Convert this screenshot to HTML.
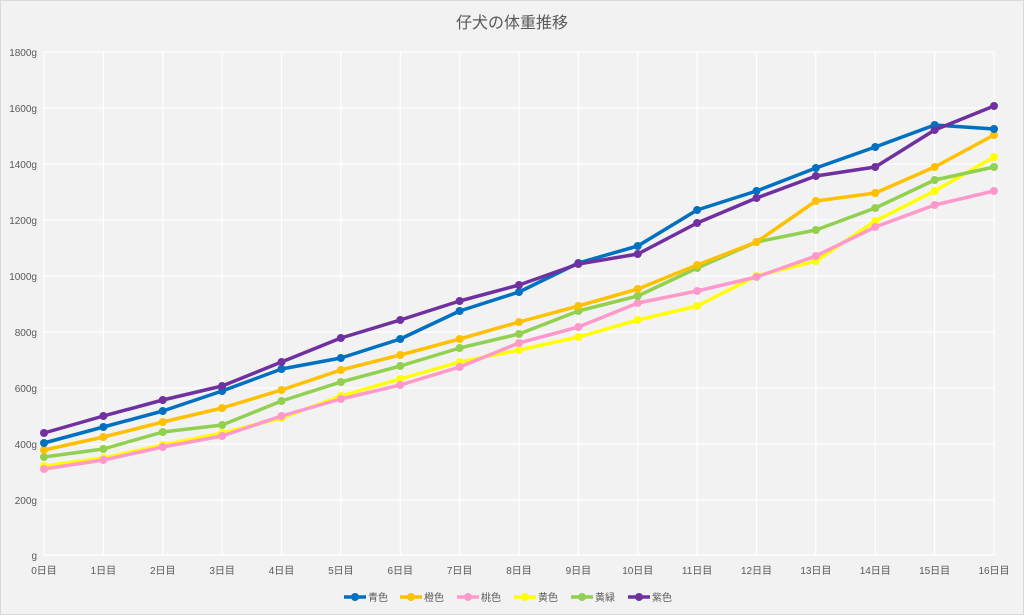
<!DOCTYPE html>
<html><head><meta charset="utf-8"><style>
html,body{margin:0;padding:0;background:#f2f2f2;}
svg{display:block;font-family:"Liberation Sans","Noto Sans CJK JP",sans-serif;}
</style></head><body>
<svg width="1024" height="615" viewBox="0 0 1024 615">
<rect x="0.5" y="0.5" width="1023" height="614" fill="#f2f2f2" stroke="#d9d9d9"/>
<text x="512" y="28" text-anchor="middle" font-size="16" fill="#595959">仔犬の体重推移</text>
<g stroke="#ffffff" stroke-width="1.2">
<line x1="44" y1="52" x2="994" y2="52"/><line x1="44" y1="108" x2="994" y2="108"/>
<line x1="44" y1="164" x2="994" y2="164"/><line x1="44" y1="220" x2="994" y2="220"/>
<line x1="44" y1="276" x2="994" y2="276"/><line x1="44" y1="332" x2="994" y2="332"/>
<line x1="44" y1="388" x2="994" y2="388"/><line x1="44" y1="444" x2="994" y2="444"/>
<line x1="44" y1="500" x2="994" y2="500"/><line x1="44" y1="555" x2="994" y2="555"/>
</g>
<g stroke="#ffffff" stroke-width="1.2" id="vg"></g>
<g font-size="10" fill="#595959" text-anchor="end">
<text x="37" y="56">1800g</text><text x="37" y="112">1600g</text><text x="37" y="168">1400g</text>
<text x="37" y="224">1200g</text><text x="37" y="280">1000g</text><text x="37" y="336">800g</text>
<text x="37" y="392">600g</text><text x="37" y="448">400g</text><text x="37" y="504">200g</text>
<text x="37" y="559">g</text>
</g>
<g id="xl" font-size="10" fill="#595959" text-anchor="middle"></g>
<g id="series"></g>
<g font-size="10" fill="#595959">
<line x1="344" y1="597" x2="366" y2="597" stroke="#0070c0" stroke-width="3.5"/><circle cx="355" cy="597" r="4" fill="#0070c0"/><text x="368" y="601">青色</text>
<line x1="400" y1="597" x2="422" y2="597" stroke="#ffc000" stroke-width="3.5"/><circle cx="411" cy="597" r="4" fill="#ffc000"/><text x="424" y="601">橙色</text>
<line x1="457" y1="597" x2="479" y2="597" stroke="#ff99cc" stroke-width="3.5"/><circle cx="468" cy="597" r="4" fill="#ff99cc"/><text x="481" y="601">桃色</text>
<line x1="514" y1="597" x2="536" y2="597" stroke="#ffff00" stroke-width="3.5"/><circle cx="525" cy="597" r="4" fill="#ffff00"/><text x="538" y="601">黄色</text>
<line x1="571" y1="597" x2="593" y2="597" stroke="#92d050" stroke-width="3.5"/><circle cx="582" cy="597" r="4" fill="#92d050"/><text x="595" y="601">黄緑</text>
<line x1="628" y1="597" x2="650" y2="597" stroke="#7030a0" stroke-width="3.5"/><circle cx="639" cy="597" r="4" fill="#7030a0"/><text x="652" y="601">紫色</text>
</g>
</svg>
<script>
var ns="http://www.w3.org/2000/svg";
function X(i){return 44+i*59.375;}
var vg=document.getElementById('vg'),xl=document.getElementById('xl');
for(var i=0;i<=16;i++){
 var l=document.createElementNS(ns,'line');l.setAttribute('x1',X(i));l.setAttribute('x2',X(i));l.setAttribute('y1',52);l.setAttribute('y2',555);vg.appendChild(l);
 var t=document.createElementNS(ns,'text');t.setAttribute('x',X(i));t.setAttribute('y',574);t.textContent=i+'日目';xl.appendChild(t);
}
var S=[
["#ffff00",[466,458,445,433,418,396,379,362,350,337,320,306,276,261,221,191,157]],
["#ff99cc",[469,460,447,436,416,399,385,367,343,327,303,291,277,256,227,205,191]],
["#92d050",[457,449,432,425,401,382,366,348,334,311,296,268,242,230,208,180,167]],
["#ffc000",[450,437,422,408,390,370,355,339,322,306,289,265,242,201,193,167,135]],
["#0070c0",[443,427,411,391,369,358,339,311,292,263,246,210,191,168,147,125,129]],
["#7030a0",[433,416,400,386,362,338,320,301,285,264,254,223,198,176,167,130,106]]
];
var g=document.getElementById('series');
S.forEach(function(s){
 var p=document.createElementNS(ns,'polyline');
 p.setAttribute('points',s[1].map(function(y,i){return X(i)+','+y;}).join(' '));
 p.setAttribute('fill','none');p.setAttribute('stroke',s[0]);p.setAttribute('stroke-width','3.5');p.setAttribute('stroke-linejoin','round');
 g.appendChild(p);
 s[1].forEach(function(y,i){var c=document.createElementNS(ns,'circle');c.setAttribute('cx',X(i));c.setAttribute('cy',y);c.setAttribute('r',4);c.setAttribute('fill',s[0]);g.appendChild(c);});
});
</script>
</body></html>
